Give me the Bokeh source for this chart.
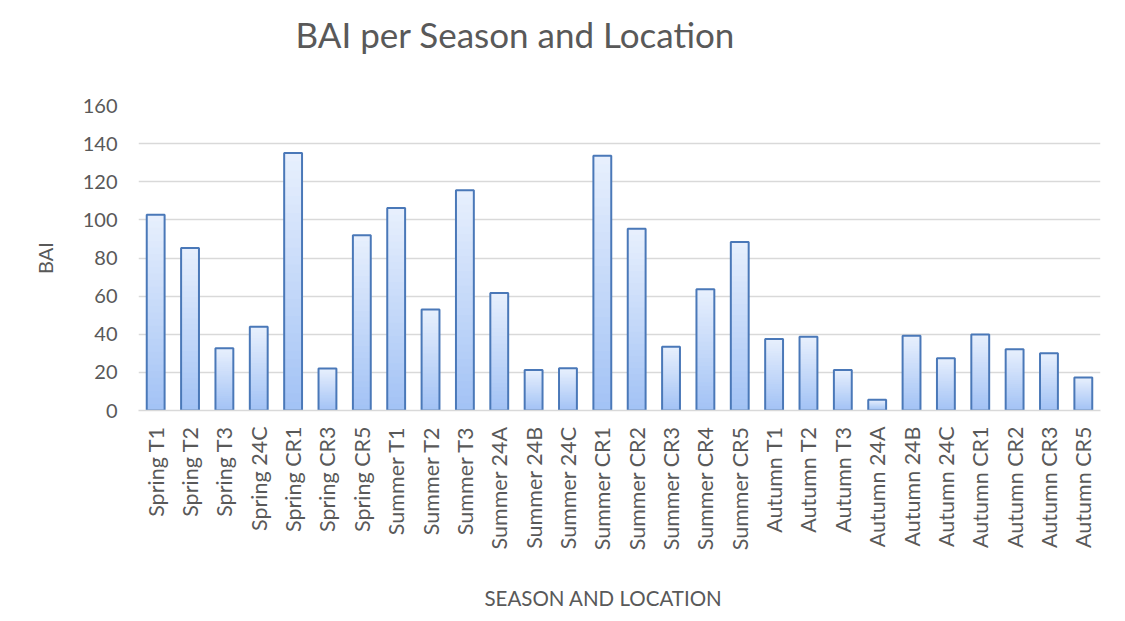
import math
from bokeh.plotting import figure
from bokeh.models import ColumnDataSource, FactorRange, Range1d, FixedTicker, Title
from bokeh.embed import file_html
from bokeh.resources import INLINE

categories = ["Spring T1", "Spring T2", "Spring T3", "Spring 24C", "Spring CR1", "Spring CR3", "Spring CR5",
              "Summer T1", "Summer T2", "Summer T3", "Summer 24A", "Summer 24B", "Summer 24C",
              "Summer CR1", "Summer CR2", "Summer CR3", "Summer CR4", "Summer CR5",
              "Autumn T1", "Autumn T2", "Autumn T3", "Autumn 24A", "Autumn 24B", "Autumn 24C",
              "Autumn CR1", "Autumn CR2", "Autumn CR3", "Autumn CR5"]
bai = [102.7, 85.3, 32.6, 43.9, 135.1, 22.0, 92.0,
       106.2, 53.0, 115.6, 61.7, 21.3, 22.2,
       133.7, 95.4, 33.5, 63.6, 88.4,
       37.5, 38.7, 21.3, 5.6, 39.2, 27.4,
       39.9, 32.1, 30.0, 17.3]
y_ticks = [0, 20, 40, 60, 80, 100, 120, 140, 160]

FONT = "Lato"
TXT = "#595959"

p = figure(width=1120, height=618, output_backend="svg", toolbar_location=None,
           x_range=FactorRange(*categories, range_padding=0), y_range=Range1d(0, 160),
           min_border_left=138, min_border_right=20, min_border_top=105, min_border_bottom=208)

# gradient fill via nested bars (tallest/lightest first, shorter/darker on top)
N = 30
top_rgb = (0xE8, 0xF0, 0xFD)
bot_rgb = (0xA2, 0xC2, 0xF5)
xs, t, cols = [], [], []
for k in range(N - 1, -1, -1):
    f = (k + 0.5) / N
    rgb = tuple(int(round(bot_rgb[i] * (1 - f) + top_rgb[i] * f)) for i in range(3))
    for c, v in zip(categories, bai):
        xs.append(c)
        t.append(v * (k + 1) / N)
        cols.append("#%02x%02x%02x" % rgb)
src = ColumnDataSource(dict(x=xs, top=t, color=cols))
p.vbar(x="x", bottom=0, top="top", width=0.52, fill_color="color", line_color=None, source=src)

bar_src = ColumnDataSource(dict(x=categories, top=bai))
p.vbar(x="x", top="top", bottom=0, width=0.52, fill_color=None, line_color="#4a78b8", line_width=2,
       source=bar_src)

# spacer between frame and chart title, then the chart title
p.add_layout(Title(text="\u00a0", text_font_size="2px", standoff=43), "above")
p.add_layout(Title(text="BAI per Season  and Location", align="left", vertical_align="top",
                   offset=157, standoff=4, text_font=FONT, text_font_size="35px",
                   text_font_style="normal", text_color=TXT), "above")

p.yaxis.ticker = FixedTicker(ticks=y_ticks)
p.yaxis.axis_label = "BAI"
p.yaxis.axis_label_text_font = FONT
p.yaxis.axis_label_text_font_size = "20px"
p.yaxis.axis_label_text_font_style = "normal"
p.yaxis.axis_label_text_color = TXT
p.yaxis.axis_label_standoff = 23
p.yaxis.major_label_text_font = FONT
p.yaxis.major_label_text_font_size = "20px"
p.yaxis.major_label_text_color = TXT
p.yaxis.major_label_standoff = 15
p.yaxis.axis_line_color = None
p.yaxis.major_tick_line_color = None
p.yaxis.minor_tick_line_color = None

p.xaxis.major_label_orientation = math.pi / 2
p.xaxis.major_label_text_font = FONT
p.xaxis.major_label_text_font_size = "21.5px"
p.xaxis.major_label_text_color = TXT
p.xaxis.major_label_standoff = 10
p.xaxis.axis_line_color = "#d9d9d9"
p.xaxis.axis_line_width = 1.5
p.xaxis.major_tick_line_color = None

# spacer below the axis, then the x axis title placed from the frame's left edge
p.add_layout(Title(text="\u00a0", text_font_size="2px", standoff=27), "below")
p.add_layout(Title(text="SEASON AND LOCATION", align="left", vertical_align="top", offset=346,
                   standoff=2, text_font=FONT, text_font_size="20.5px", text_font_style="normal",
                   text_color=TXT), "below")

p.xgrid.grid_line_color = None
p.ygrid.grid_line_color = "#d9d9d9"
p.ygrid.grid_line_width = 1.5
p.outline_line_color = None

open("out.html", "w").write(file_html(p, INLINE))
